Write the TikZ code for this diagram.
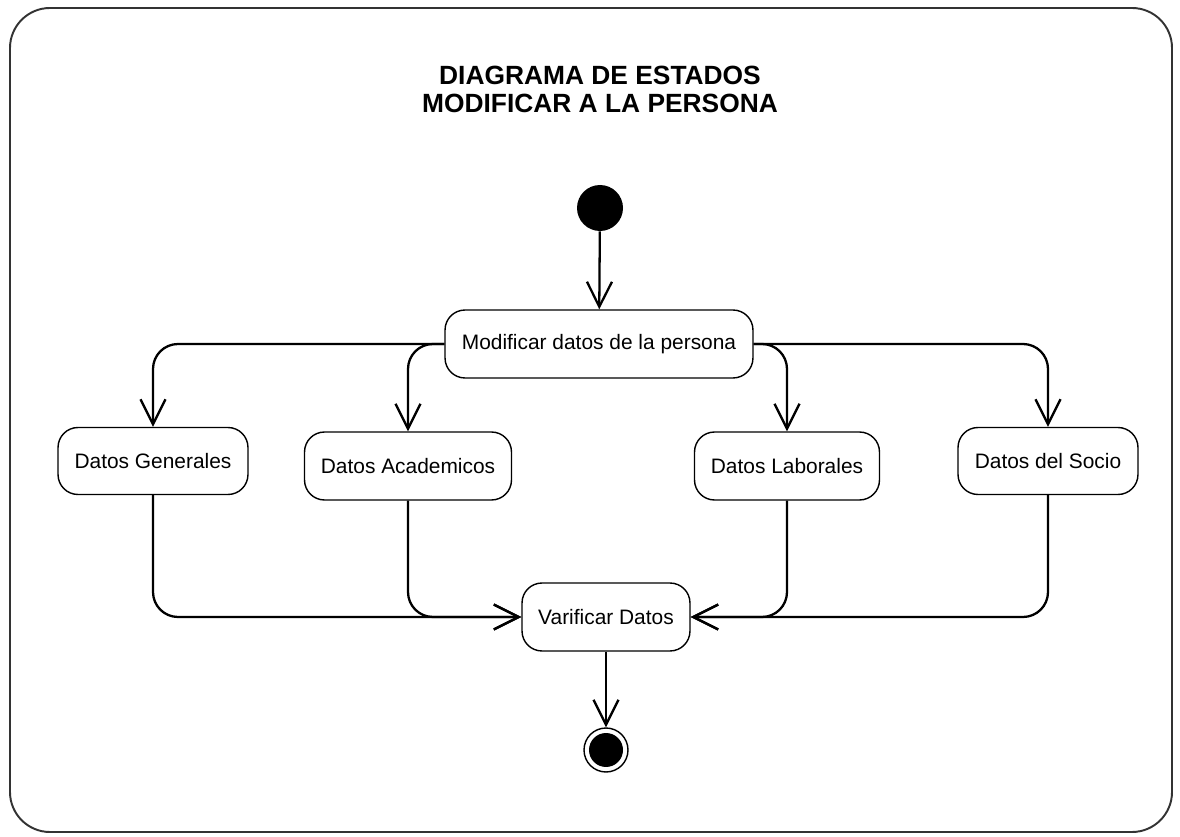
\documentclass[tikz,border=0pt]{standalone}
\usepackage{fontspec}
\setmainfont{Liberation Sans}
\usetikzlibrary{arrows.meta}

\begin{document}
\begin{tikzpicture}[x=0.02cm,y=-0.02cm,
    every node/.style={font=\fontsize{11.9}{14}\selectfont},
    estado/.style={draw,rectangle,rounded corners=0.4cm,line width=0.8pt,minimum height=1.36cm,inner sep=2pt,fill=white},
    flujo/.style={line width=1.3pt,rounded corners=0.5cm,-{Straight Barb[length=0.5cm,width=0.5cm,line width=1.3pt]}}]
        \useasboundingbox (0,0) rectangle (1180,837);
        \draw[line width=1.1pt,rounded corners=0.8cm,black!80] (10,8) rectangle (1172,832);

        \node[align=center,font=\bfseries\fontsize{15}{16}\selectfont] (titulo) at (600,89) {DIAGRAMA DE ESTADOS\\MODIFICAR A LA PERSONA};

        \node[circle,fill,minimum size=0.92cm,inner sep=0pt] (ini) at (600,208) {};
        \node[estado,minimum width=6.16cm] (mod) at (599,344) {Modificar datos de la persona};

        \node[estado,minimum width=3.8cm,minimum height=1.34cm] (gen) at (153,461) {Datos Generales};
        \node[estado,minimum width=4.14cm] (aca) at (408,466) {Datos Academicos};
        \node[estado,minimum width=3.7cm] (lab) at (787,466) {Datos Laborales};
        \node[estado,minimum width=3.6cm,minimum height=1.34cm] (soc) at (1048,461) {Datos del Socio};

        \node[estado,minimum width=3.36cm] (ver) at (606,617) {Varificar Datos};
        \node[circle,draw,line width=0.8pt,minimum size=0.88cm,inner sep=0pt,
              path picture={\fill (path picture bounding box.center) circle (0.34cm);}] (fin) at (606,750) {};

        \draw[flujo] (ini) -- (mod);
        \draw[flujo] (mod.west) -| (gen.north);
        \draw[flujo] (mod.west) -| (aca.north);
        \draw[flujo] (mod.east) -| (lab.north);
        \draw[flujo] (mod.east) -| (soc.north);

        \draw[flujo] (gen.south) |- (ver.west);
        \draw[flujo] (aca.south) |- (ver.west);
        \draw[flujo] (lab.south) |- (ver.east);
        \draw[flujo] (soc.south) |- (ver.east);

        \draw[flujo] (ver) -- (fin);
    \end{tikzpicture}
\end{document}
